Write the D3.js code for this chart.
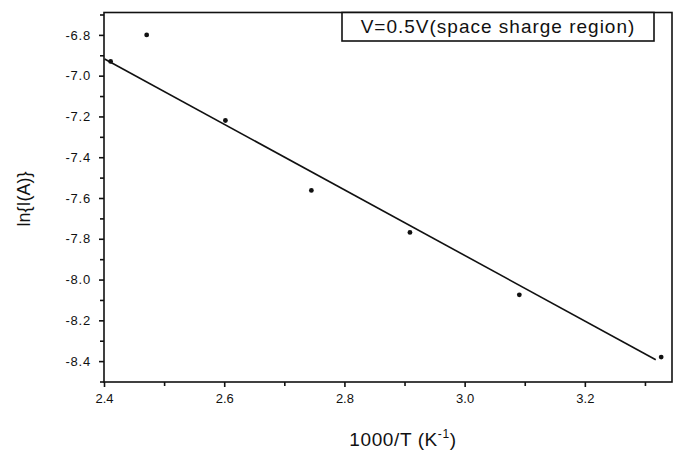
<!DOCTYPE html>
<html>
<head>
<meta charset="utf-8">
<script src="https://cdn.jsdelivr.net/npm/d3@7"></script>
<style>
  html, body { margin: 0; padding: 0; background: #fff; }
  svg { display: block; font-family: "Liberation Sans", Arial, sans-serif; }
</style>
</head>
<body>
<svg id="chart" width="686" height="451"></svg>
<script>
// Measured current vs. inverse temperature
const invT = [2.411, 2.471, 2.602, 2.745, 2.909, 3.091, 3.327];
const lnI  = [-6.93, -6.80, -7.22, -7.563, -7.769, -8.075, -8.38];

// Linear fit end points
const fitX = [2.401, 3.318];
const fitY = [-6.918, -8.393];

const xTicks = [2.4, 2.6, 2.8, 3.0, 3.2];
const yTicks = [-6.8, -7.0, -7.2, -7.4, -7.6, -7.8, -8.0, -8.2, -8.4];
const xMinor = [2.5, 2.7, 2.9, 3.1, 3.3];
const yMinor = [-6.7, -6.9, -7.1, -7.3, -7.5, -7.7, -7.9, -8.1, -8.3, -8.5];

const legendText = "V=0.5V(space sharge region)";

const svg = d3.select("#chart");
const plot = { left: 104, right: 672, top: 12.5, bottom: 382 };

const x = d3.scaleLinear().domain([2.4, 3.345]).range([plot.left, plot.right]);
const y = d3.scaleLinear().domain([-8.5, -6.7]).range([381.5, 14.5]);

const fmt = d => d.toFixed(1);

// frame
svg.append("rect")
  .attr("x", plot.left).attr("y", plot.top)
  .attr("width", plot.right - plot.left).attr("height", plot.bottom - plot.top)
  .attr("fill", "none").attr("stroke", "#111").attr("stroke-width", 1.6);

// bottom axis
svg.append("g").attr("transform", `translate(0,${plot.bottom})`)
  .call(d3.axisBottom(x).tickValues(xTicks).tickFormat(fmt).tickSize(5).tickPadding(7));
svg.append("g").attr("transform", `translate(0,${plot.bottom})`)
  .call(d3.axisBottom(x).tickValues(xMinor).tickFormat("").tickSize(4));

// left axis
svg.append("g").attr("class", "yax").attr("transform", `translate(${plot.left},0)`)
  .call(d3.axisLeft(y).tickValues(yTicks).tickFormat(fmt).tickSize(5).tickPadding(8));
svg.append("g").attr("transform", `translate(${plot.left},0)`)
  .call(d3.axisLeft(y).tickValues(yMinor).tickFormat("").tickSize(4));

svg.selectAll(".domain").remove();
svg.selectAll(".tick line").attr("stroke", "#111").attr("stroke-width", 1.6);
svg.selectAll(".tick text")
  .attr("fill", "#111").style("font-size", "13px")
  .style("font-family", "'Liberation Sans', Arial, sans-serif");
svg.selectAll(".yax .tick text").style("letter-spacing", "0.8px");

// fit line
svg.append("line")
  .attr("x1", x(fitX[0])).attr("y1", y(fitY[0]))
  .attr("x2", x(fitX[1])).attr("y2", y(fitY[1]))
  .attr("stroke", "#111").attr("stroke-width", 1.6);

// data points
svg.selectAll("circle.pt").data(invT.map((v, i) => [v, lnI[i]]))
  .join("circle").attr("class", "pt")
  .attr("cx", d => x(d[0])).attr("cy", d => y(d[1]))
  .attr("r", 2.4).attr("fill", "#111");

// legend box
const lg = svg.append("g");
lg.append("rect").attr("x", 342).attr("y", plot.top).attr("width", 312).attr("height", 28.5)
  .attr("fill", "#fff").attr("stroke", "#111").attr("stroke-width", 1.6);
lg.append("text").attr("x", 498).attr("y", 33).attr("text-anchor", "middle")
  .style("font-size", "19px").style("letter-spacing", "1px").attr("fill", "#111").text(legendText);

// axis titles
const xt = svg.append("text").attr("x", 403).attr("y", 446).attr("text-anchor", "middle")
  .style("font-size", "19px").style("letter-spacing", "0.6px").attr("fill", "#111");
xt.append("tspan").text("1000/T (K");
xt.append("tspan").attr("dy", -8).style("font-size", "12px").text("-1");
xt.append("tspan").attr("dy", 8).text(")");

svg.append("text").attr("transform", "translate(30,199) rotate(-90)")
  .attr("text-anchor", "middle").style("font-size", "18px").attr("fill", "#111")
  .text("ln{I(A)}");
</script>
</body>
</html>
